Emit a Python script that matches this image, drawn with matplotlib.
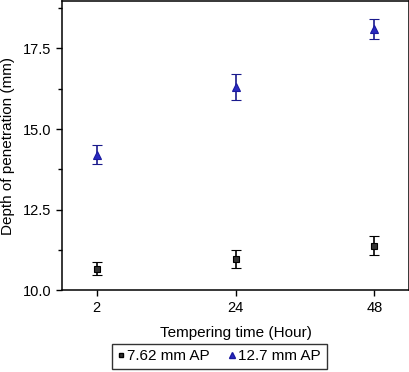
import matplotlib
matplotlib.use('Agg')
import matplotlib.pyplot as plt
from matplotlib.ticker import MultipleLocator, FormatStrFormatter
from matplotlib.lines import Line2D

plt.rcParams['font.family'] = ['Liberation Sans', 'DejaVu Sans']

times = ['2', '24', '48']
ap762 = [10.67, 10.98, 11.38]
ap762_err = [0.2, 0.28, 0.3]
ap127 = [14.2, 16.3, 18.1]
ap127_err = [0.3, 0.4, 0.3]

fig = plt.figure(figsize=(4.1, 3.72), dpi=100)
ax = fig.add_axes([0.151, 0.220, 0.847, 0.777])

x = range(len(times))
ax.errorbar(x, ap762, yerr=ap762_err, fmt='s', color='black', ms=5,
            mfc='#333333', mec='black', mew=0.8, ecolor='black',
            elinewidth=1.2, capsize=3.5, capthick=1.2)
ax.errorbar(x, ap127, yerr=ap127_err, fmt='^', color='#1a1aa0', ms=6,
            mfc='#2a2ac0', mec='#1a1aa0', mew=0.8, ecolor='#1a1a8c',
            elinewidth=1.2, capsize=3.5, capthick=1.2)

ax.set_xlim(-0.25, 2.25)
ax.set_ylim(10.0, 18.97)
ax.set_xticks(list(x))
ax.set_xticklabels(times)
ax.yaxis.set_major_locator(MultipleLocator(2.5))
ax.yaxis.set_minor_locator(MultipleLocator(1.25))
ax.yaxis.set_major_formatter(FormatStrFormatter('%.1f'))
ax.tick_params(axis='both', which='major', direction='out', length=4, width=1, labelsize=10.5)
ax.tick_params(axis='y', which='minor', direction='out', length=3, width=1)
for s in ax.spines.values():
    s.set_linewidth(1.1)

ax.set_xlabel('Tempering time (Hour)', fontsize=11, labelpad=8)
ax.set_ylabel('Depth of penetration (mm)', fontsize=11, labelpad=6)

handles = [
    Line2D([], [], ls='none', marker='s', ms=3.5, mfc='#333333', mec='black', label='7.62 mm AP'),
    Line2D([], [], ls='none', marker='^', ms=4.5, mfc='#2a2ac0', mec='#1a1aa0', label='12.7 mm AP'),
]
leg = fig.legend(handles=handles, loc='center', bbox_to_anchor=(0.535, 0.042), ncol=2,
                 fontsize=11, frameon=True, fancybox=False, edgecolor='black',
                 handlelength=0.4, handletextpad=0.2, columnspacing=1.3,
                 borderpad=0.38, borderaxespad=0)
leg.get_frame().set_linewidth(1.0)

fig.savefig('out.png', dpi=100)
